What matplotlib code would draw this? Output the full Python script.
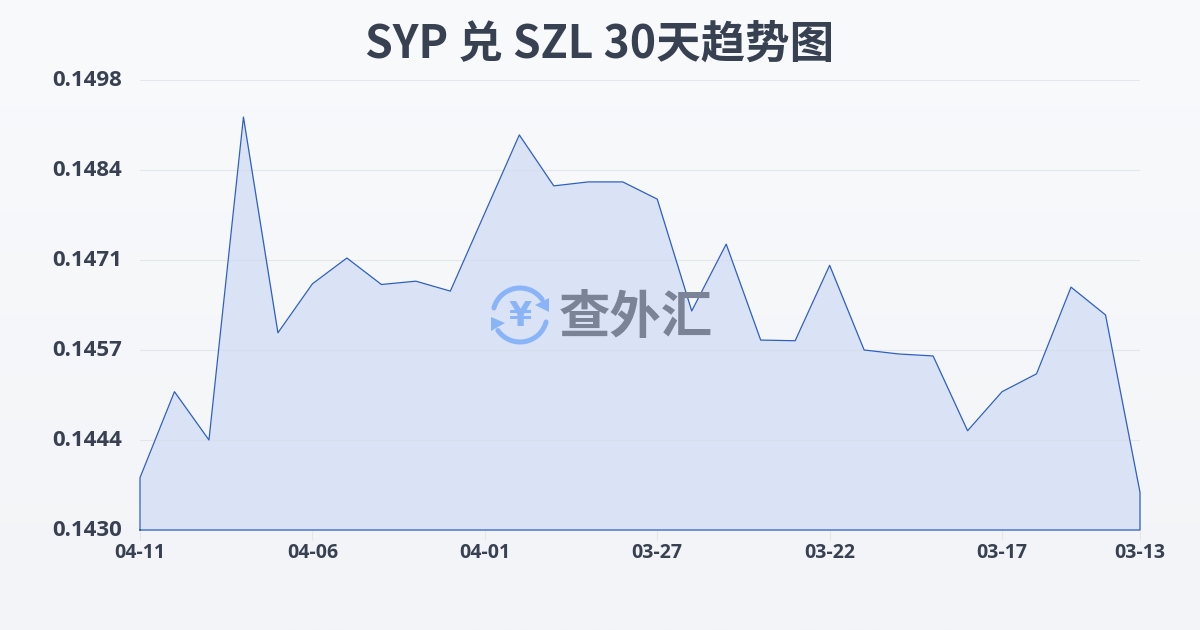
import numpy as np
import matplotlib
matplotlib.use('Agg')
import matplotlib.pyplot as plt
import matplotlib.transforms as mtrans
from matplotlib.patches import Arc, Polygon

plt.rcParams['font.family'] = ['Noto Sans CJK SC', 'DejaVu Sans']

# rates, newest first like the x axis
rates = [0.14379, 0.14509, 0.14436, 0.14924, 0.14598, 0.14672, 0.14711, 0.14671, 0.14676, 0.14661,
         0.14779, 0.14897, 0.14820, 0.14826, 0.14826, 0.14800, 0.14631, 0.14732, 0.14587, 0.14586,
         0.14700, 0.14572, 0.14566, 0.14563, 0.14450, 0.14509, 0.14536, 0.14667, 0.14625, 0.14357]
tick_idx = [0, 5, 10, 15, 20, 25, 29]
date_labels = ['04-11', '04-06', '04-01', '03-27', '03-22', '03-17', '03-13']
y_ticks = [0.1430, 0.1444, 0.1457, 0.1471, 0.1484, 0.1498]
title = 'SYP 兑 SZL 30天趋势图'
watermark = '查外汇'

W, H = 1200, 630
LATIN = ['Open Sans', 'DejaVu Sans']
fig = plt.figure(figsize=(W / 100, H / 100), dpi=100)

# Background gradient
bg = fig.add_axes([0, 0, 1, 1], zorder=0)
c_top = np.array([0xf9, 0xfa, 0xfc]) / 255
c_bot = np.array([0xf2, 0xf4, 0xf7]) / 255
t = np.linspace(0, 1, 256)[:, None, None]
bg.imshow(c_top * (1 - t) + c_bot * t, aspect='auto', extent=[0, 1, 0, 1])
bg.axis('off')

# Main chart
ax = fig.add_axes([140 / W, 1 - 530 / H, 1000 / W, 450 / H], zorder=1)
ax.patch.set_alpha(0)
x = np.arange(len(rates))
y_min, y_max = y_ticks[0], y_ticks[-1]

ax.fill_between(x, rates, y_min, color='#d9e3f5', linewidth=0, zorder=1)
ax.set_xlim(0, len(rates) - 1)
ax.set_ylim(y_min, y_max)

# evenly spaced grid, labels are rounded values
grid_pos = np.linspace(y_min, y_max, len(y_ticks))
ax.set_yticks(grid_pos)
ax.set_yticklabels([f'{v:.4f}' for v in y_ticks], fontsize=16, fontweight='bold',
                   color='#374151', family=LATIN)
ax.grid(axis='y', color='#d5dbe6', linewidth=0.8, alpha=0.6, zorder=2)
ax.set_axisbelow(False)
ax.tick_params(axis='y', length=0, pad=13)
shift_up = mtrans.ScaledTranslation(0, 2 / 100, fig.dpi_scale_trans)
for lab in ax.get_yticklabels():
    lab.set_transform(lab.get_transform() + shift_up)

ax.set_xticks(tick_idx)
ax.set_xticklabels(date_labels, fontsize=14, fontweight='bold',
                   color='#374151', family=LATIN)
ax.tick_params(axis='x', length=7, width=0.8, color='#e8e6df', pad=2)

# outline closes round the area
ax.plot(np.r_[0, x, x[-1], 0], np.r_[y_min, rates, y_min, y_min], color='#2f5fc4',
        linewidth=0.9, zorder=5, clip_on=False)

for spine in ax.spines.values():
    spine.set_visible(False)

# Watermark, drawn in pixel coords
ov = fig.add_axes([0, 0, 1, 1], zorder=2)
ov.set_xlim(0, W)
ov.set_ylim(H, 0)
ov.axis('off')
icon = '#8ab4f8'
ov.add_patch(Arc((520, 315), 54, 54, theta1=195, theta2=325, color=icon, linewidth=3.6, capstyle='round'))
ov.add_patch(Arc((520, 315), 54, 54, theta1=15, theta2=145, color=icon, linewidth=3.6, capstyle='round'))
ov.add_patch(Polygon([(549, 298), (549, 312), (535, 305)], color=icon, linewidth=0))
ov.add_patch(Polygon([(491, 317), (491, 331), (505, 323)], color=icon, linewidth=0))
ov.text(520, 316, '¥', fontsize=24, fontweight='bold', color=icon, ha='center', va='center',
        family=['DejaVu Sans'])
ov.text(636, 318, watermark, fontsize=37, fontweight='bold', color='#7b8396', ha='center', va='center')

# Title
fig.text(600 / W, 1 - 45 / H, title, fontsize=32, fontweight='bold', color='#374151',
         ha='center', va='center')

fig.savefig('out.png', dpi=100)
